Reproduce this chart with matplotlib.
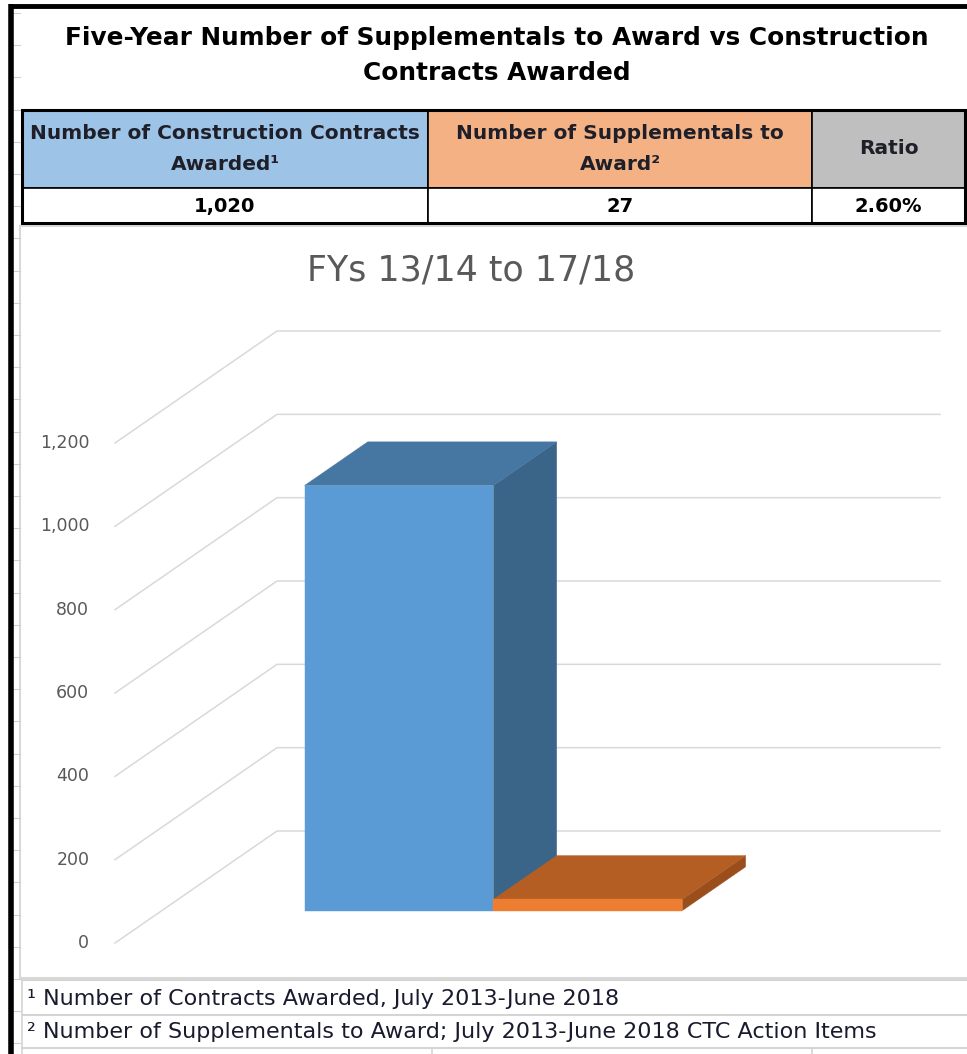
import numpy as np
import matplotlib
matplotlib.use('Agg')
import matplotlib.pyplot as plt
from matplotlib.patches import Polygon, Rectangle

plt.rcParams['font.family'] = ['DejaVu Sans']

# Data
title_lines = ['Five-Year Number of Supplementals to Award vs Construction',
               'Contracts Awarded']
table_headers = ['Number of Construction Contracts\nAwarded¹',
                 'Number of Supplementals to\nAward²',
                 'Ratio']
table_values = ['1,020', '27', '2.60%']
table_colors = ['#9DC3E6', '#F4B183', '#BFBFBF']
chart_title = 'FYs 13/14 to 17/18'
series_names = ['Construction Contracts Awarded', 'Supplementals to Award']
series_values = [1020, 27]
front_colors = ['#5B9BD5', '#ED7D31']
top_colors = ['#4676A2', '#B45E24']
side_colors = ['#3A6488', '#9A4E1C']
y_ticks = [0, 200, 400, 600, 800, 1000, 1200]
footnotes = ['¹ Number of Contracts Awarded, July 2013-June 2018',
             '² Number of Supplementals to Award; July 2013-June 2018 CTC Action Items']

W, H = 967, 1054
fig = plt.figure(figsize=(W / 100, H / 100), dpi=100)

# ---- sheet layer (pixel coordinates) ----
ax0 = fig.add_axes([0, 0, 1, 1])
ax0.set_xlim(0, W)
ax0.set_ylim(H, 0)
ax0.axis('off')

# excel row marks at the left edge
for yy in np.arange(13, H, 32.2):
    ax0.plot([13, 20], [yy, yy], color='#D0D0D0', lw=0.8)

# thick outer border
ax0.plot([10.5, 10.5], [4, H], color='black', lw=4, solid_capstyle='butt')
ax0.plot([8.5, W], [5.5, 5.5], color='black', lw=3.5, solid_capstyle='butt')

for i, line in enumerate(title_lines):
    ax0.text(497, 38 + i * 35, line, ha='center', va='center',
             fontsize=17.8, fontweight='bold', color='black')

# table
col_edges = [22, 428, 812, 965]
row_top, row_mid, row_bot = 110, 188, 223
for i in range(len(table_headers)):
    x0, x1 = col_edges[i], col_edges[i + 1]
    ax0.add_patch(Rectangle((x0, row_top), x1 - x0, row_mid - row_top,
                            facecolor=table_colors[i], edgecolor='black', lw=1.2))
    ax0.add_patch(Rectangle((x0, row_mid), x1 - x0, row_bot - row_mid,
                            facecolor='white', edgecolor='black', lw=1.2))
    ax0.text((x0 + x1) / 2, (row_top + row_mid) / 2, table_headers[i],
             ha='center', va='center', fontsize=14.5, fontweight='bold',
             linespacing=1.75, color='#1F1F2A')
    ax0.text((x0 + x1) / 2, (row_mid + row_bot) / 2 + 1, table_values[i],
             ha='center', va='center', fontsize=14, fontweight='bold', color='black')
ax0.add_patch(Rectangle((col_edges[0], row_top), col_edges[-1] - col_edges[0],
                        row_bot - row_top, fill=False, edgecolor='black', lw=2.2))

# chart area border
ax0.add_patch(Rectangle((20, 226), W + 5, 752, facecolor='white',
                        edgecolor='#D9D9D9', lw=1.5, zorder=0))
ax0.text(471, 271, chart_title, ha='center', va='center',
         fontsize=25, color='#595959')

# footnotes
for yy in [980, 1015, 1048]:
    ax0.plot([22, W], [yy, yy], color='#D4D4D4', lw=1.5)
ax0.plot([22, 22], [980, H], color='#D4D4D4', lw=1.2)
for xx in [432, 812]:
    ax0.plot([xx, xx], [1048, H], color='#D4D4D4', lw=1.2)
for i, note in enumerate(footnotes):
    ax0.text(27, 999 + i * 33, note, ha='left', va='center',
             fontsize=16, color='#1A1A2E')

# ---- 3D-looking column chart (category / value coordinates) ----
PX_PER_CAT = 663.0
X_CENTER = 446.5
PX_PER_VAL = 83.33 / 200
Y_ZERO = 943.0
DX = 162.0 / PX_PER_CAT        # depth offset, category units
DY = 112.0 / PX_PER_VAL        # depth offset, value units

ax = fig.add_axes([0, 0, 1, 1])
ax.set_xlim((0 - X_CENTER) / PX_PER_CAT, (W - X_CENTER) / PX_PER_CAT)
ax.set_ylim((Y_ZERO - H) / PX_PER_VAL, Y_ZERO / PX_PER_VAL)
ax.patch.set_alpha(0)
ax.axis('off')

# gridlines: front-left edge, diagonal side wall, back wall
for v in y_ticks:
    ax.plot([-0.5, -0.5 + DX, 0.5 + DX], [v, v + DY, v + DY],
            color='#D9D9D9', lw=1.1, zorder=1)
    ax.annotate(f'{v:,}', (-0.5, v), xytext=(-18.5, 0), textcoords='offset points',
                ha='right', va='center', fontsize=12.5, color='#595959')

bar_w = 0.285
d0, d1 = 0.29, 0.68
for i, v in enumerate(series_values):
    x0 = -bar_w + i * bar_w
    x1 = x0 + bar_w
    ox0, oy0 = d0 * DX, d0 * DY
    ox1, oy1 = d1 * DX, d1 * DY
    front = [(x0 + ox0, oy0), (x1 + ox0, oy0), (x1 + ox0, v + oy0), (x0 + ox0, v + oy0)]
    top = [(x0 + ox0, v + oy0), (x1 + ox0, v + oy0), (x1 + ox1, v + oy1), (x0 + ox1, v + oy1)]
    side = [(x1 + ox0, oy0), (x1 + ox1, oy1), (x1 + ox1, v + oy1), (x1 + ox0, v + oy0)]
    z = 3 + i
    ax.add_patch(Polygon(side, closed=True, facecolor=side_colors[i],
                         edgecolor=side_colors[i], lw=0.3, zorder=z))
    ax.add_patch(Polygon(top, closed=True, facecolor=top_colors[i],
                         edgecolor=top_colors[i], lw=0.3, zorder=z))
    ax.add_patch(Polygon(front, closed=True, facecolor=front_colors[i],
                         edgecolor=front_colors[i], lw=0.3, zorder=z))

fig.savefig('out.png', dpi=100)
